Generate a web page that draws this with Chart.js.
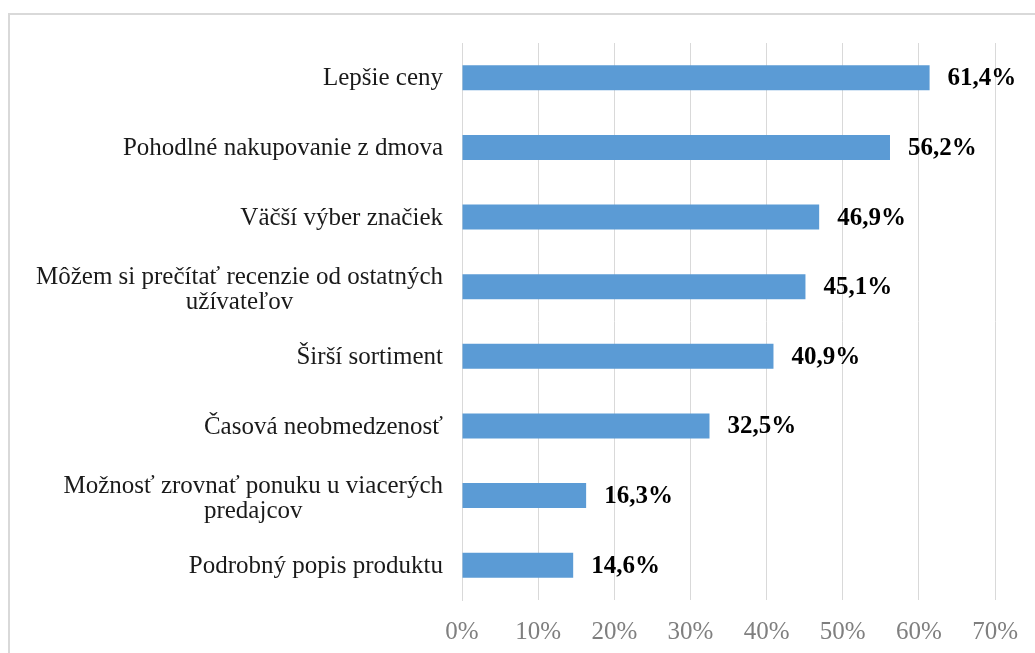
<!DOCTYPE html>
<html lang="sk">
<head>
<meta charset="utf-8">
<title>Dôvody nakupovania online</title>
<script src="https://cdn.jsdelivr.net/npm/chart.js@4.4.0/dist/chart.umd.min.js"></script>
<style>
  html, body { margin: 0; padding: 0; background: #fff; overflow: hidden; }
  #wrap { position: relative; width: 1035px; height: 653px; }
  /* rámik okolo grafu (vpravo a dole pretéka mimo obrázok) */
  #frame {
    position: absolute; left: 8px; top: 13px;
    width: 1100px; height: 700px;
    border: 2px solid #d9d9d9;
  }
  #graf { position: absolute; left: 0; top: 0; }
</style>
</head>
<body>
<div id="wrap">
  <div id="frame"></div>
  <canvas id="graf" width="1035" height="653"></canvas>
</div>

<script>
// -----------------------------------------------------
// Dáta
// -----------------------------------------------------
const kategorie = [
  "Lepšie ceny",
  "Pohodlné nakupovanie z dmova",
  "Väčší výber značiek",
  ["Môžem si prečítať recenzie od ostatných", "užívateľov"],
  "Širší sortiment",
  "Časová neobmedzenosť",
  ["Možnosť zrovnať ponuku u viacerých", "predajcov"],
  "Podrobný popis produktu"
];
const hodnoty = [61.4, 56.2, 46.9, 45.1, 40.9, 32.5, 16.3, 14.6];
const osX = { min: 0, max: 70, krok: 10 };

const FONT = "'Liberation Serif', 'Times New Roman', serif";
const SIVA = "#d9d9d9";

// -----------------------------------------------------
// Popisky kategórií (viacriadkové – riadky centrované v bloku)
// -----------------------------------------------------
const popiskyY = {
  id: "popiskyY",
  afterDraw(chart) {
    const ctx = chart.ctx;
    const y = chart.scales.y;
    const pravyOkraj = chart.chartArea.left - 19;
    const lh = 25;
    ctx.save();
    ctx.font = "25px " + FONT;
    ctx.fillStyle = "#1a1a1a";
    ctx.textAlign = "center";
    ctx.textBaseline = "middle";
    kategorie.forEach((lab, i) => {
      const riadky = Array.isArray(lab) ? lab : [lab];
      const sirka = Math.max(...riadky.map((r) => ctx.measureText(r).width));
      const stred = pravyOkraj - sirka / 2;
      const yc = y.getPixelForTick(i) + (riadky.length > 1 ? 3 : 1);
      riadky.forEach((r, j) => {
        ctx.fillText(r, stred, yc + (j - (riadky.length - 1) / 2) * lh);
      });
    });
    ctx.restore();
  }
};

// -----------------------------------------------------
// Hodnoty pri stĺpcoch
// -----------------------------------------------------
const hodnotyPriStlpcoch = {
  id: "hodnotyPriStlpcoch",
  afterDatasetsDraw(chart) {
    const ctx = chart.ctx;
    const meta = chart.getDatasetMeta(0);
    ctx.save();
    ctx.font = "bold 25px " + FONT;
    ctx.fillStyle = "#000";
    ctx.textAlign = "left";
    ctx.textBaseline = "middle";
    meta.data.forEach((bar, i) => {
      const txt = hodnoty[i].toFixed(1).replace(".", ",") + "%";
      ctx.fillText(txt, bar.x + 18, bar.y + 1);
    });
    ctx.restore();
  }
};

new Chart(document.getElementById("graf"), {
  type: "bar",
  data: {
    labels: kategorie,
    datasets: [{
      data: hodnoty,
      backgroundColor: "#5b9bd5",
      borderWidth: 0,
      barPercentage: 0.36,
      categoryPercentage: 1
    }]
  },
  options: {
    indexAxis: "y",
    responsive: false,
    devicePixelRatio: 1,
    animation: false,
    layout: { padding: { top: 43, right: 38, bottom: 0, left: 0 } },
    plugins: {
      legend: { display: false },
      tooltip: { enabled: false }
    },
    scales: {
      x: {
        min: osX.min,
        max: osX.max,
        grid: { color: SIVA, lineWidth: 1, drawTicks: false },
        border: { display: false },
        ticks: {
          stepSize: osX.krok,
          padding: 17,
          color: "#7f7f7f",
          font: { family: FONT, size: 25 },
          callback: (v) => v + "%"
        },
        afterFit: (s) => { s.height = 53; }
      },
      y: {
        grid: { display: false },
        border: { display: true, color: SIVA, width: 1 },
        ticks: { display: false },
        afterFit: (s) => { s.width = 462; }
      }
    }
  },
  plugins: [popiskyY, hodnotyPriStlpcoch]
});
</script>
</body>
</html>
